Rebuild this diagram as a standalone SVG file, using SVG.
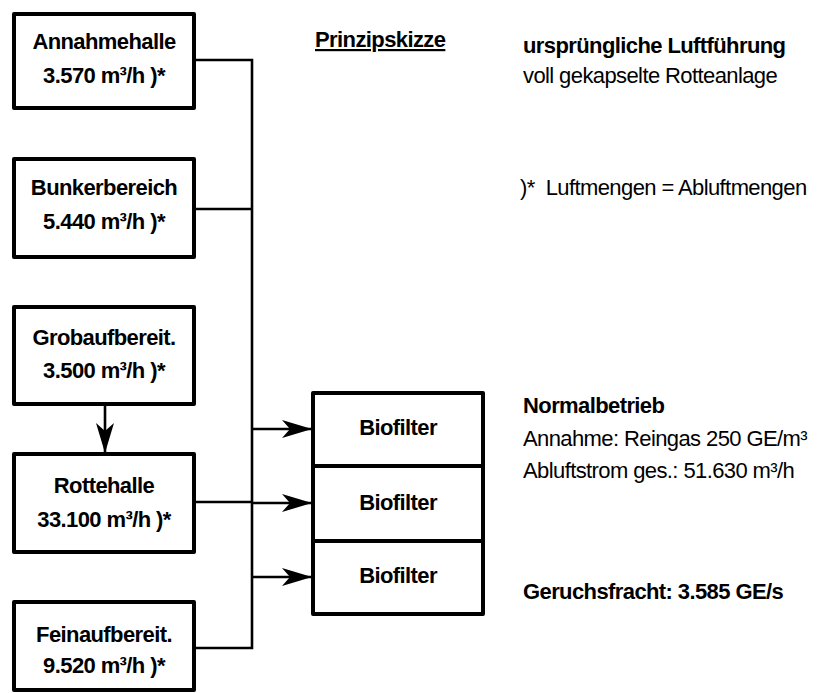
<svg xmlns="http://www.w3.org/2000/svg" width="827" height="693" viewBox="0 0 827 693">
<style>
.box{fill:#fff;stroke:#000;stroke-width:4;stroke-linejoin:round}
.con{fill:none;stroke:#000;stroke-width:2.6}
.t{font-family:"Liberation Sans",Arial,sans-serif;font-size:22px;fill:#000;letter-spacing:-0.6px}
.b{font-weight:bold}
.c{text-anchor:middle}
</style>
<defs>
<marker id="arr" markerUnits="userSpaceOnUse" markerWidth="34" markerHeight="22" refX="32" refY="11" orient="auto" viewBox="0 0 34 22">
<path d="M32,11 L2,2 L10,11 L2,20 Z" fill="#000"/>
</marker>
</defs>
<rect width="827" height="693" fill="#fff"/>
<g id="connectors">
<path class="con" d="M194,60 H252 V648 H194"/>
<path class="con" d="M194,209 H252"/>
<path class="con" d="M194,502 H252"/>
<path class="con" d="M252,429 H312" marker-end="url(#arr)"/>
<path class="con" d="M252,503 H312" marker-end="url(#arr)"/>
<path class="con" d="M252,577 H312" marker-end="url(#arr)"/>
<path class="con" d="M105,405 V453" marker-end="url(#arr)"/>
</g>
<g id="annahmehalle">
<rect class="box" x="14" y="14" width="180" height="94"/>
<text class="t b c" x="104" y="49">Annahmehalle</text>
<text class="t b c" x="104" y="83">3.570 m³/h )*</text>
</g>
<g id="bunkerbereich">
<rect class="box" x="14" y="159" width="180" height="98"/>
<text class="t b c" x="104" y="195">Bunkerbereich</text>
<text class="t b c" x="104" y="229">5.440 m³/h )*</text>
</g>
<g id="grobaufbereit">
<rect class="box" x="14" y="307" width="180" height="97"/>
<text class="t b c" x="104" y="345">Grobaufbereit.</text>
<text class="t b c" x="104" y="378">3.500 m³/h )*</text>
</g>
<g id="rottehalle">
<rect class="box" x="14" y="454" width="180" height="98"/>
<text class="t b c" x="104" y="493">Rottehalle</text>
<text class="t b c" x="104" y="527">33.100 m³/h )*</text>
</g>
<g id="feinaufbereit">
<rect class="box" x="14" y="602" width="180" height="88"/>
<text class="t b c" x="104" y="642">Feinaufbereit.</text>
<text class="t b c" x="104" y="673">9.520 m³/h )*</text>
</g>
<g id="biofilter1">
<rect class="box" x="313" y="393" width="170" height="73"/>
<text class="t b c" x="398" y="435">Biofilter</text>
</g>
<g id="biofilter2">
<rect class="box" x="313" y="466" width="170" height="75"/>
<text class="t b c" x="398" y="510">Biofilter</text>
</g>
<g id="biofilter3">
<rect class="box" x="313" y="541" width="170" height="73"/>
<text class="t b c" x="398" y="583">Biofilter</text>
</g>
<g id="notes">
<text class="t b" x="315" y="47" text-decoration="underline">Prinzipskizze</text>
<text class="t b" x="523" y="53">ursprüngliche Luftführung</text>
<text class="t" x="523" y="83">voll gekapselte Rotteanlage</text>
<text class="t" x="520" y="195" xml:space="preserve">)*  Luftmengen = Abluftmengen</text>
<text class="t b" x="523" y="413">Normalbetrieb</text>
<text class="t" x="523" y="446">Annahme: Reingas 250 GE/m³</text>
<text class="t" x="523" y="478">Abluftstrom ges.: 51.630 m³/h</text>
<text class="t b" x="523" y="599">Geruchsfracht: 3.585 GE/s</text>
</g>
</svg>
